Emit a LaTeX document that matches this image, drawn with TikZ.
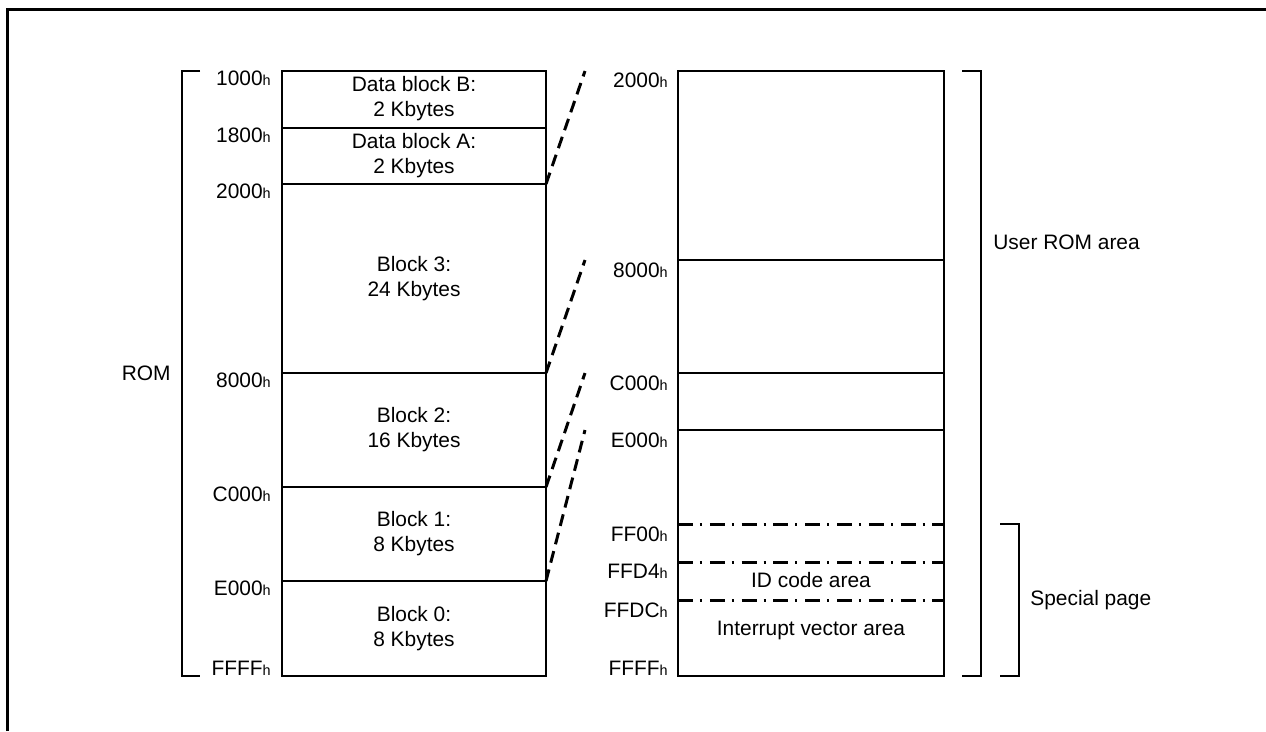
\documentclass[tikz,border=0pt]{standalone}
\usepackage{fontspec}
\setmainfont{Liberation Sans}
\usetikzlibrary{positioning}
\newcommand{\addr}[1]{#1{\fontsize{8.2}{9}\selectfont h}}
\tikzset{
  mem/.style={draw,line width=1pt},
  lbl/.style={font=\fontsize{11.9}{14.2}\selectfont,inner sep=0pt},
  adr/.style={lbl,anchor=base east},
  blk/.style={lbl,align=center},
  link/.style={line width=1.7pt,dash pattern=on 6.8pt off 4pt},
  pagesep/.style={line width=1.7pt,dash pattern=on 8.5pt off 4pt on 1.1pt off 4.5pt},
}

\begin{document}
\begin{tikzpicture}[x=0.02cm,y=-0.02cm]
  \useasboundingbox (0,0) rectangle (1266,731);
  % frame, cut off at right and bottom
  \draw[line width=2pt] (7.5,731) -- (7.5,9.5) -- (1266,9.5);

  % ROM blocks
  \draw[mem] (282,71) rectangle (546,676);
  \foreach \y in {128,184,373,487,581}
    \draw[mem] (282,\y) -- (546,\y);
  \node[blk] (blkB) at (414,98.5) {Data block B:\\2 Kbytes};
  \node[blk] (blkA) at (414,155.5) {Data block A:\\2 Kbytes};
  \node[blk] (blk3) at (414,278.5) {Block 3:\\24 Kbytes};
  \node[blk] (blk2) at (414,430) {Block 2:\\16 Kbytes};
  \node[blk] (blk1) at (414,534) {Block 1:\\8 Kbytes};
  \node[blk] (blk0) at (414,628.5) {Block 0:\\8 Kbytes};

  \node[adr] (l1000) at (271,85.5) {\addr{1000}};
  \node[adr] (l1800) at (271,142) {\addr{1800}};
  \node[adr] (l2000) at (271,198.5) {\addr{2000}};
  \node[adr] (l8000) at (271,387.5) {\addr{8000}};
  \node[adr] (lC000) at (271,501.5) {\addr{C000}};
  \node[adr] (lE000) at (271,595.5) {\addr{E000}};
  \node[adr] (lFFFF) at (271,675) {\addr{FFFF}};

  % ROM bracket
  \draw[mem] (200,71) -| (182,676) -- (200,676);
  \node[lbl,anchor=east] (rom) at (171,373) {ROM};

  % user ROM area
  \draw[mem] (678,71) rectangle (944,676);
  \foreach \y in {260,373,430}
    \draw[mem] (678,\y) -- (944,\y);
  \foreach \y in {524,562,600}
    \draw[pagesep] (678,\y) -- (944,\y);
  \node[lbl] (idcode) at (811,580) {ID code area};
  \node[lbl] (intvec) at (811,630) {Interrupt vector area};

  \node[adr] (r2000) at (668,87) {\addr{2000}};
  \node[adr] (r8000) at (668,277) {\addr{8000}};
  \node[adr] (rC000) at (668,390) {\addr{C000}};
  \node[adr] (rE000) at (668,447) {\addr{E000}};
  \node[adr] (rFF00) at (668,541) {\addr{FF00}};
  \node[adr] (rFFD4) at (668,578) {\addr{FFD4}};
  \node[adr] (rFFDC) at (668,617) {\addr{FFDC}};
  \node[adr] (rFFFF) at (668,675) {\addr{FFFF}};

  % dashed links between the two maps
  \coordinate (a2000) at (546,184);
  \coordinate (b2000) at (585,71);
  \coordinate (a8000) at (546,373);
  \coordinate (b8000) at (585,260);
  \coordinate (aC000) at (546,487);
  \coordinate (bC000) at (585,373);
  \coordinate (aE000) at (546,581);
  \coordinate (bE000) at (585,430);
  \draw[link] (a2000) -- (b2000);
  \draw[link] (a8000) -- (b8000);
  \draw[link] (aC000) -- (bC000);
  \draw[link] (aE000) -- (bE000);

  % right brackets
  \draw[mem] (962,71) -| (981,676) -- (962,676);
  \node[lbl,anchor=west] (userrom) at (993,242) {User ROM area};
  \draw[mem] (1000,524) -| (1019,676) -- (1000,676);
  \node[lbl,anchor=west] (special) at (1030,600) {Special page};
\end{tikzpicture}
\end{document}
